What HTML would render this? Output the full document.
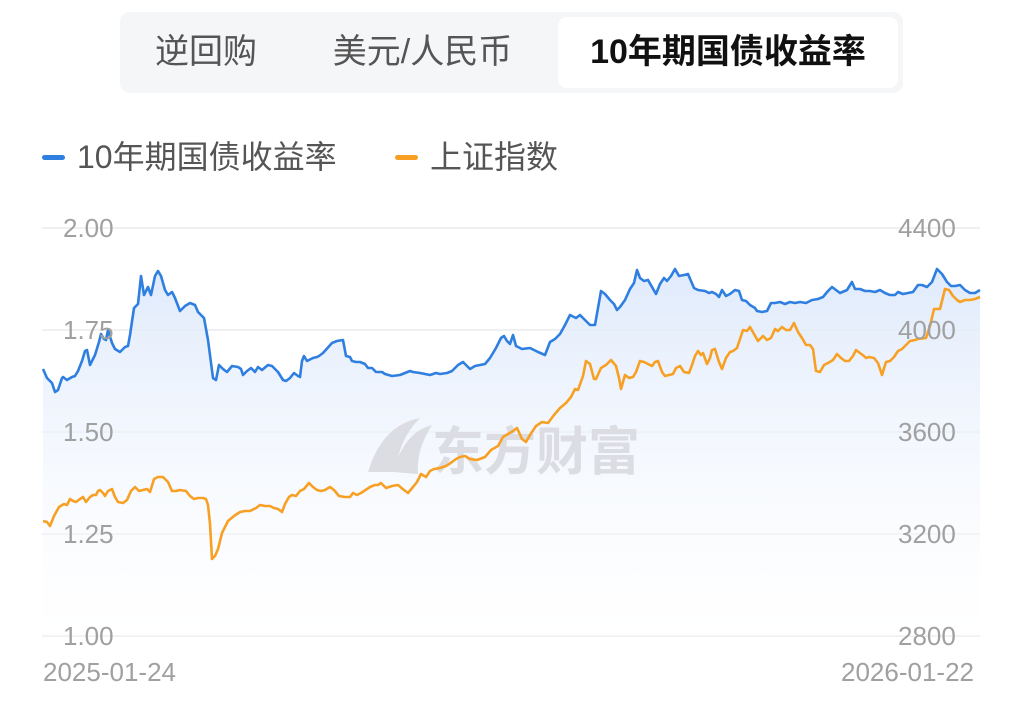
<!DOCTYPE html>
<html><head><meta charset="utf-8"><style>
html,body{margin:0;padding:0;background:#fff;width:1024px;height:702px;overflow:hidden;font-family:"Liberation Sans","Noto Sans CJK SC",sans-serif}
.tabs{position:absolute;left:120px;top:12px;width:783px;height:81px;background:#f5f6f8;border-radius:10px}
.tab{position:absolute;top:0;height:81px;line-height:81px;font-size:34px;color:#555;text-align:center}
.sel{position:absolute;left:438px;top:5px;width:340px;height:71px;background:#fff;border-radius:9px}
.leg{position:absolute;top:137px;font-size:32px;color:#555;line-height:40px}
.dash{position:absolute;top:155px;width:23px;height:5px;border-radius:3px}
.ax{position:absolute;font-size:26px;color:#a0a0a0;line-height:28px}
</style></head><body>
<div class="tabs">
<div class="tab" style="left:0;width:172px">逆回购</div>
<div class="tab" style="left:190px;width:225px">美元/人民币</div>
<div class="sel"></div>
<div class="tab" style="left:438px;width:340px;color:#111;font-weight:bold">10年期国债收益率</div>
</div>
<div class="dash" style="left:42px;background:#2f7fe0"></div>
<div class="leg" style="left:77px">10年期国债收益率</div>
<div class="dash" style="left:395px;background:#f7a023"></div>
<div class="leg" style="left:430px">上证指数</div>
<svg width="1024" height="702" style="position:absolute;left:0;top:0">
<defs><linearGradient id="g" x1="0" y1="0" x2="0" y2="1"><stop offset="0" stop-color="#dce8fb" stop-opacity="0.9"/><stop offset="1" stop-color="#ffffff" stop-opacity="0.3"/></linearGradient></defs>
<g stroke="#ececef" stroke-width="1.5">
<line x1="42" y1="228" x2="980" y2="228"/><line x1="42" y1="330" x2="980" y2="330"/><line x1="42" y1="432" x2="980" y2="432"/><line x1="42" y1="534" x2="980" y2="534"/><line x1="42" y1="636" x2="980" y2="636"/>
</g>
<polygon fill="url(#g)" points="43,636 43,369 47,378 52,383 55,392 58,390 62,378 63,377 67,380 72,377 75,376 78,371 82,361 85,351 87,350 90,365 95,355 99,342 101,334 104,339 106,340 108,330 112,343 115,349 120,352 125,347 128,346 130,335 134,308 138,304 141,276 144,295 148,287 151,295 155,276 158,271 161,276 165,290 168,295 172,292 175,298 180,311 185,306 190,303 195,305 198,312 204,318 208,340 213,378 216,380 219,365 223,369 227,372 232,366 238,367 241,369 243,375 247,371 251,368 255,372 258,367 262,370 268,365 272,366 278,372 283,380 286,381 290,378 294,373 298,376 300,377 302,361 304,356 307,361 313,358 317,357 319,356 323,353 332,343 337,341 343,340 346,356 350,357 352,361 356,362 360,362 365,364 368,368 372,368 376,372 382,372 385,374 392,376 400,375 410,371 413,372 420,373 430,375 436,373 440,374 447,373 452,371 458,365 463,362 470,369 475,366 485,364 490,358 496,348 501,338 504,336 507,341 510,344 513,335 516,346 522,349 530,348 538,352 545,355 550,342 555,339 560,334 565,325 570,315 576,318 580,315 585,320 590,325 595,325 601,291 605,294 610,300 614,304 617,310 620,307 625,300 630,289 634,283 637,270 640,278 644,281 648,280 652,287 656,294 660,284 664,278 667,281 671,276 675,269 679,276 684,275 688,274 694,288 698,290 705,291 709,293 712,292 716,294 719,297 722,290 726,296 730,294 735,290 739,291 742,300 746,301 750,305 755,308 757,311 762,312 767,311 771,303 775,303 780,302 785,304 790,302 795,303 800,302 806,303 812,300 818,299 823,297 828,291 832,287 836,290 840,293 847,290 852,282 855,289 860,289 865,291 870,291 875,292 880,290 885,293 890,295 895,295 898,292 903,294 908,293 913,292 918,285 922,285 927,287 932,282 937,269 942,274 947,282 951,286 955,286 960,285 965,290 970,293 975,293 980,290 980,636"/>
<g font-family="Liberation Sans,Noto Sans CJK SC,sans-serif" font-weight="bold" font-size="52" fill="#dcdde2">
<path d="M368 472 Q382 425 420 418 Q398 440 396 472 Z M393 472 Q404 432 432 425 Q416 450 418 474 Z" fill="#dcdde2"/>
<text x="432" y="470">东方财富</text>
</g>
<polyline fill="none" stroke="#2f7fe0" stroke-width="2.6" stroke-linejoin="round" points="43,369 47,378 52,383 55,392 58,390 62,378 63,377 67,380 72,377 75,376 78,371 82,361 85,351 87,350 90,365 95,355 99,342 101,334 104,339 106,340 108,330 112,343 115,349 120,352 125,347 128,346 130,335 134,308 138,304 141,276 144,295 148,287 151,295 155,276 158,271 161,276 165,290 168,295 172,292 175,298 180,311 185,306 190,303 195,305 198,312 204,318 208,340 213,378 216,380 219,365 223,369 227,372 232,366 238,367 241,369 243,375 247,371 251,368 255,372 258,367 262,370 268,365 272,366 278,372 283,380 286,381 290,378 294,373 298,376 300,377 302,361 304,356 307,361 313,358 317,357 319,356 323,353 332,343 337,341 343,340 346,356 350,357 352,361 356,362 360,362 365,364 368,368 372,368 376,372 382,372 385,374 392,376 400,375 410,371 413,372 420,373 430,375 436,373 440,374 447,373 452,371 458,365 463,362 470,369 475,366 485,364 490,358 496,348 501,338 504,336 507,341 510,344 513,335 516,346 522,349 530,348 538,352 545,355 550,342 555,339 560,334 565,325 570,315 576,318 580,315 585,320 590,325 595,325 601,291 605,294 610,300 614,304 617,310 620,307 625,300 630,289 634,283 637,270 640,278 644,281 648,280 652,287 656,294 660,284 664,278 667,281 671,276 675,269 679,276 684,275 688,274 694,288 698,290 705,291 709,293 712,292 716,294 719,297 722,290 726,296 730,294 735,290 739,291 742,300 746,301 750,305 755,308 757,311 762,312 767,311 771,303 775,303 780,302 785,304 790,302 795,303 800,302 806,303 812,300 818,299 823,297 828,291 832,287 836,290 840,293 847,290 852,282 855,289 860,289 865,291 870,291 875,292 880,290 885,293 890,295 895,295 898,292 903,294 908,293 913,292 918,285 922,285 927,287 932,282 937,269 942,274 947,282 951,286 955,286 960,285 965,290 970,293 975,293 980,290"/>
<polyline fill="none" stroke="#f7a023" stroke-width="2.6" stroke-linejoin="round" points="43,521 47,522 50,526 54,516 59,507 64,504 67,505 70,499 73,501 76,502 80,499 83,497 86,502 90,497 93,495 96,495 98,491 100,490 103,493 105,496 108,491 112,489 115,497 118,502 123,503 127,500 131,491 135,487 139,491 143,490 147,489 150,492 154,479 158,477 163,477 168,482 172,491 176,491 180,490 186,491 190,496 194,499 198,498 203,498 206,499 208,505 210,524 212,559 215,556 218,549 222,533 228,521 234,516 240,512 245,511 250,511 256,508 260,505 265,506 270,506 274,508 278,509 282,512 285,504 289,497 292,495 296,496 300,491 304,489 309,483 313,487 317,490 321,491 325,490 330,487 334,490 339,496 345,497 350,497 353,493 357,495 361,493 367,489 370,487 375,485 378,485 381,483 386,488 392,486 398,485 404,490 408,493 413,487 417,482 421,474 426,477 430,471 434,469 440,468 446,466 452,462 456,459 460,457 465,456 470,459 477,460 485,457 491,450 498,446 503,437 508,434 513,431 517,428 522,439 526,442 530,435 536,426 542,422 548,423 554,415 560,408 566,403 571,397 575,389 578,390 583,376 586,361 590,364 594,379 596,379 601,368 606,365 611,360 616,366 619,378 621,389 625,375 629,378 633,377 636,372 640,361 644,362 648,364 652,366 655,362 658,361 662,372 665,376 669,375 673,374 676,368 680,366 684,372 689,373 692,365 695,356 698,351 701,355 703,353 707,364 710,358 712,350 715,349 719,362 722,369 726,358 730,352 733,351 737,348 740,339 743,330 747,331 750,327 754,334 758,341 763,336 767,340 771,338 775,329 778,331 782,327 786,330 790,330 794,323 798,332 802,338 806,345 810,345 813,349 816,371 820,372 824,365 828,363 833,360 837,354 841,358 845,361 849,361 853,356 856,350 860,353 864,356 866,358 869,357 874,358 878,363 882,375 886,362 890,361 894,357 898,351 902,349 906,345 910,341 915,340 918,339 926,338 930,326 934,309 940,309 945,289 949,290 953,296 957,300 960,302 965,300 970,300 975,299 980,297"/>
</svg>
<div class="ax" style="left:63px;top:214px">2.00</div>
<div class="ax" style="left:63px;top:316px">1.75</div>
<div class="ax" style="left:63px;top:418px">1.50</div>
<div class="ax" style="left:63px;top:520px">1.25</div>
<div class="ax" style="left:63px;top:622px">1.00</div>
<div class="ax" style="left:898px;top:214px">4400</div>
<div class="ax" style="left:898px;top:316px">4000</div>
<div class="ax" style="left:898px;top:418px">3600</div>
<div class="ax" style="left:898px;top:520px">3200</div>
<div class="ax" style="left:898px;top:622px">2800</div>
<div class="ax" style="left:43px;top:658px">2025-01-24</div>
<div class="ax" style="left:841px;top:658px">2026-01-22</div>
</body></html>
